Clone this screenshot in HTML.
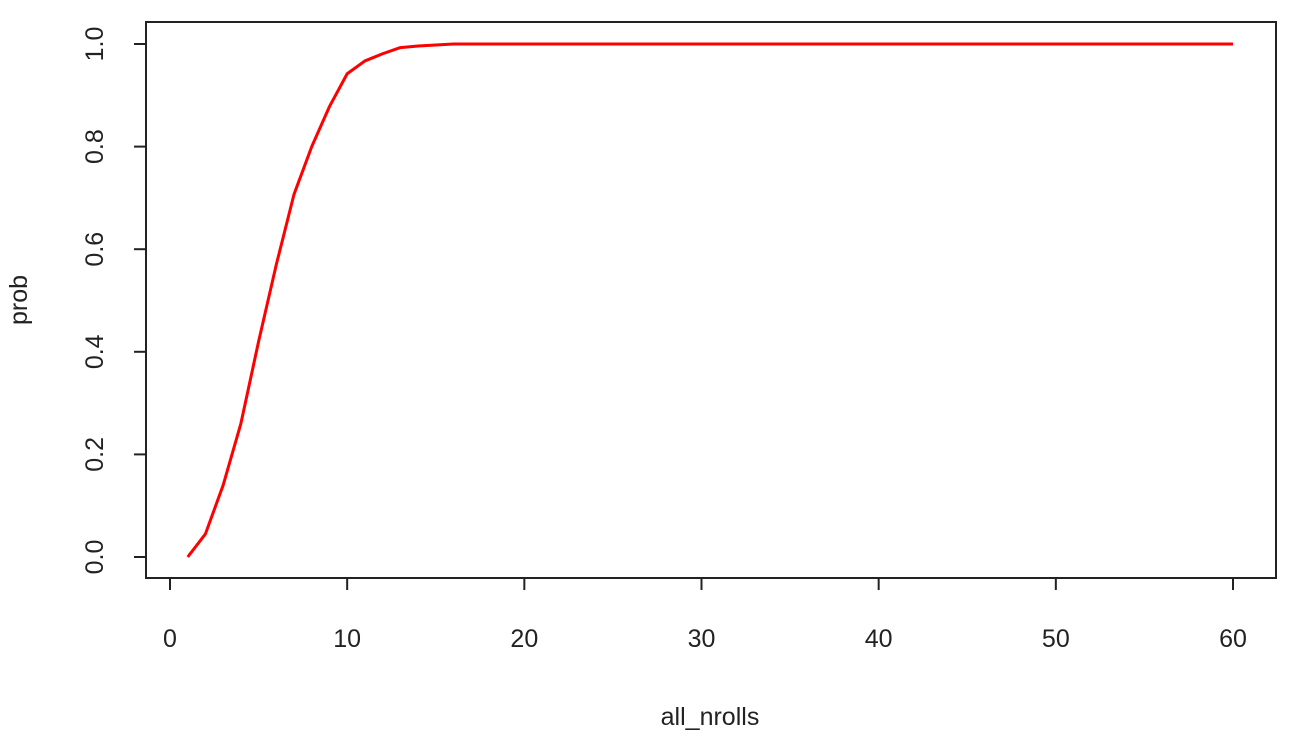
<!DOCTYPE html>
<html><head><meta charset="utf-8"><style>
body{margin:0;background:#fff}
svg text{font-family:"Liberation Sans",sans-serif;fill:#222}
</style></head><body>
<svg width="1313" height="744" id="c">
<rect x="146" y="22" width="1130" height="556" fill="none" stroke="#222" stroke-width="2"/>
<g id="xt"></g>
<g id="yt"></g>
<path id="ln" fill="none" stroke="#ff0000" stroke-width="3" stroke-linejoin="round"/>
<text x="710" y="725" font-size="25" text-anchor="middle">all_nrolls</text>
<text transform="translate(27,300) rotate(-90)" font-size="25" text-anchor="middle">prob</text>
</svg>
<script>
const xTicks=[0,10,20,30,40,50,60];
const yTicks=["0.0","0.2","0.4","0.6","0.8","1.0"];
const nrolls=[1,2,3,4,5,6,7,8,9,10,11,12,13,14,15,16,60];
const prob=[0,0.045,0.14,0.26,0.42,0.57,0.707,0.80,0.878,0.942,0.967,0.981,0.993,0.996,0.998,1,1];
const X=v=>170+v*(1233-170)/60;
const Y=v=>557-v*(557-44);
const ns="http://www.w3.org/2000/svg";
const xt=document.getElementById('xt'),yt=document.getElementById('yt');
xt.innerHTML='<line x1="'+X(0)+'" x2="'+X(60)+'" y1="578" y2="578" stroke="#222" stroke-width="2"/>';
xTicks.forEach(t=>{
  const l=document.createElementNS(ns,'line');
  l.setAttribute('x1',X(t));l.setAttribute('x2',X(t));l.setAttribute('y1',578);l.setAttribute('y2',590);
  l.setAttribute('stroke','#222');l.setAttribute('stroke-width',2);
  
  
  xt.appendChild(l);
  const tx=document.createElementNS(ns,'text');
  tx.setAttribute('x',X(t));tx.setAttribute('y',647);tx.setAttribute('font-size',25);tx.setAttribute('text-anchor','middle');
  tx.textContent=t;
  
  
  xt.appendChild(tx);
});
yTicks.forEach(t=>{
  const v=parseFloat(t);
  const l=document.createElementNS(ns,'line');
  l.setAttribute('x1',134);l.setAttribute('x2',146);l.setAttribute('y1',Y(v));l.setAttribute('y2',Y(v));
  l.setAttribute('stroke','#222');l.setAttribute('stroke-width',2);
  
  
  yt.appendChild(l);
  const tx=document.createElementNS(ns,'text');
  tx.setAttribute('transform','translate(103,'+Y(v)+') rotate(-90)');
  tx.setAttribute('font-size',25);tx.setAttribute('text-anchor','middle');
  tx.textContent=t;
  
  
  yt.appendChild(tx);
});
document.getElementById('ln').setAttribute('d',nrolls.map((n,i)=>(i?'L':'M')+X(n)+','+Y(prob[i])).join(' '));
</script>
</body></html>
